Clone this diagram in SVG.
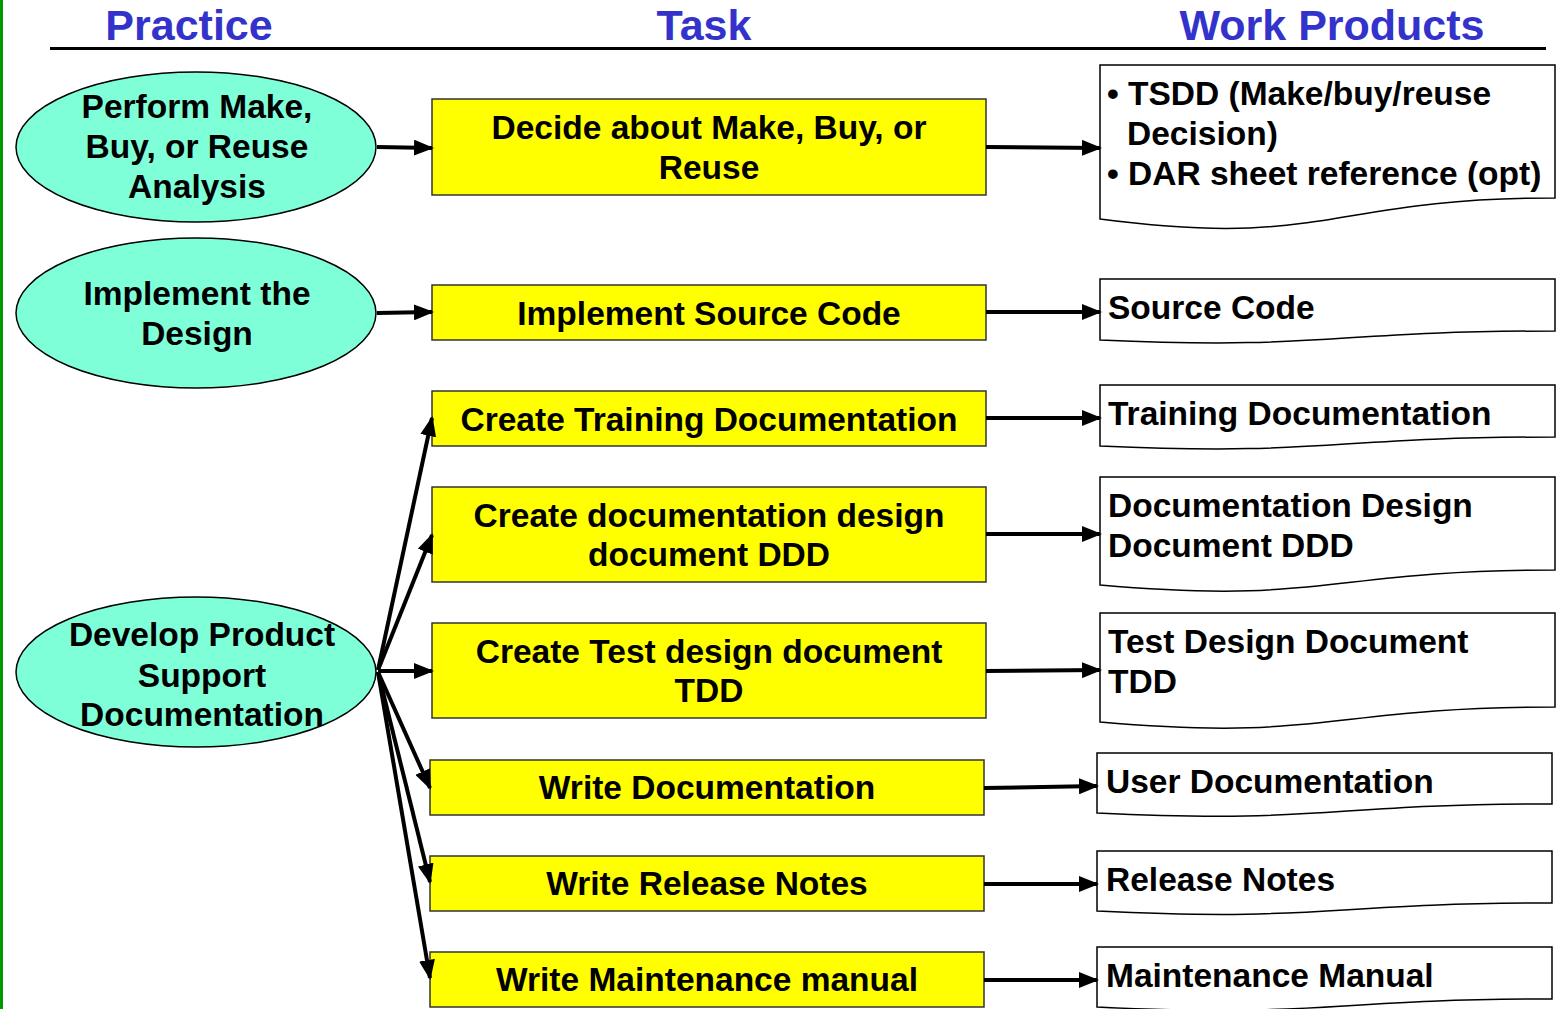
<svg xmlns="http://www.w3.org/2000/svg" width="1561" height="1009" viewBox="0 0 1561 1009">
<style>
.hdr{font-family:"Liberation Sans",Arial,sans-serif;font-weight:bold;font-size:43px;fill:#3333cc;text-anchor:middle}
.t{font-family:"Liberation Sans",Arial,sans-serif;font-weight:bold;font-size:33.5px;fill:#000}
.c{text-anchor:middle}
.ell{fill:#7fffd8;stroke:#000;stroke-width:1.5}
.task{fill:#ffff00;stroke:#333;stroke-width:1.5}
.doc{fill:#fff;stroke:#000;stroke-width:1.5}
.con line{stroke:#000;stroke-width:4;marker-end:url(#ah)}
</style>
<defs>
<marker id="ah" markerWidth="5" markerHeight="4" refX="4.5" refY="2" orient="auto" markerUnits="strokeWidth">
<path d="M0,0 L5,2 L0,4 Z" fill="#000"/>
</marker>
</defs>
<rect width="1561" height="1009" fill="#fff"/>
<line x1="1.5" y1="0" x2="1.5" y2="1009" stroke="#009900" stroke-width="3"/>
<g id="header">
<text class="hdr" x="189" y="40">Practice</text>
<text class="hdr" x="704" y="40">Task</text>
<text class="hdr" x="1332" y="40">Work Products</text>
<line x1="50" y1="48.5" x2="1546" y2="48.5" stroke="#000" stroke-width="3"/>
</g>
<g id="p1"><ellipse class="ell" cx="196" cy="147" rx="180" ry="75"/>
<text class="t c" x="197" y="118">Perform Make,</text><text class="t c" x="197" y="158">Buy, or Reuse</text><text class="t c" x="197" y="198">Analysis</text></g>
<g id="p2"><ellipse class="ell" cx="196" cy="313" rx="180" ry="75"/>
<text class="t c" x="197" y="305">Implement the</text><text class="t c" x="197" y="345">Design</text></g>
<g id="p3"><ellipse class="ell" cx="196" cy="672" rx="180" ry="75"/>
<text class="t c" x="202" y="646">Develop Product</text><text class="t c" x="202" y="687">Support</text><text class="t c" x="202" y="726">Documentation</text></g>

<g id="t1"><rect class="task" x="432" y="99" width="554" height="96"/><text class="t c" x="709" y="139">Decide about Make, Buy, or</text><text class="t c" x="709" y="179">Reuse</text></g>
<g id="t2"><rect class="task" x="432" y="285" width="554" height="55"/><text class="t c" x="709" y="325">Implement Source Code</text></g>
<g id="t3"><rect class="task" x="432" y="391" width="554" height="55"/><text class="t c" x="709" y="431">Create Training Documentation</text></g>
<g id="t4"><rect class="task" x="432" y="487" width="554" height="95"/><text class="t c" x="709" y="527">Create documentation design</text><text class="t c" x="709" y="566">document DDD</text></g>
<g id="t5"><rect class="task" x="432" y="623" width="554" height="95"/><text class="t c" x="709" y="663">Create Test design document</text><text class="t c" x="709" y="702">TDD</text></g>
<g id="t6"><rect class="task" x="430" y="760" width="554" height="55"/><text class="t c" x="707" y="799">Write Documentation</text></g>
<g id="t7"><rect class="task" x="430" y="856" width="554" height="55"/><text class="t c" x="707" y="895">Write Release Notes</text></g>
<g id="t8"><rect class="task" x="430" y="952" width="554" height="55"/><text class="t c" x="707" y="991">Write Maintenance manual</text></g>

<g id="w1"><path class="doc" d="M1100,65 L1555,65 L1555,198 C1327,198 1327,249 1100,219 Z"/>
<text class="t" x="1107" y="105">• TSDD (Make/buy/reuse</text><text class="t" x="1127" y="145">Decision)</text><text class="t" x="1107" y="185">• DAR sheet reference (opt)</text></g>
<g id="w2"><path class="doc" d="M1100,279 L1555,279 L1555,331 C1327,331 1327,350 1100,340 Z"/><text class="t" x="1108" y="319">Source Code</text></g>
<g id="w3"><path class="doc" d="M1100,385 L1555,385 L1555,437 C1327,437 1327,456 1100,446 Z"/><text class="t" x="1108" y="425">Training Documentation</text></g>
<g id="w4"><path class="doc" d="M1100,477 L1555,477 L1555,570 C1327,570 1327,605 1100,585 Z"/><text class="t" x="1108" y="517">Documentation Design</text><text class="t" x="1108" y="557">Document DDD</text></g>
<g id="w5"><path class="doc" d="M1100,613 L1555,613 L1555,707 C1327,707 1327,742 1100,722 Z"/><text class="t" x="1108" y="653">Test Design Document</text><text class="t" x="1108" y="693">TDD</text></g>
<g id="w6"><path class="doc" d="M1097,753 L1552,753 L1552,804 C1324,804 1324,824 1097,813 Z"/><text class="t" x="1106" y="793">User Documentation</text></g>
<g id="w7"><path class="doc" d="M1097,851 L1552,851 L1552,903 C1324,903 1324,922 1097,911 Z"/><text class="t" x="1106" y="891">Release Notes</text></g>
<g id="w8"><path class="doc" d="M1097,947 L1552,947 L1552,999 C1324,999 1324,1018 1097,1007 Z"/><text class="t" x="1106" y="987">Maintenance Manual</text></g>

<g id="connectors" class="con">
<line x1="377" y1="147" x2="432" y2="148"/>
<line x1="377" y1="313" x2="432" y2="312"/>
<line x1="378" y1="670" x2="432" y2="418"/>
<line x1="378" y1="670" x2="432" y2="535"/>
<line x1="378" y1="671" x2="432" y2="671"/>
<line x1="378" y1="672" x2="430" y2="788"/>
<line x1="378" y1="672" x2="430" y2="882"/>
<line x1="378" y1="672" x2="430" y2="978"/>
<line x1="986" y1="147" x2="1100" y2="148"/>
<line x1="986" y1="312" x2="1100" y2="312"/>
<line x1="986" y1="418" x2="1100" y2="418"/>
<line x1="986" y1="534" x2="1100" y2="534"/>
<line x1="986" y1="671" x2="1100" y2="670"/>
<line x1="984" y1="788" x2="1097" y2="786"/>
<line x1="984" y1="884" x2="1097" y2="884"/>
<line x1="984" y1="980" x2="1097" y2="980"/>
</g>
</svg>
